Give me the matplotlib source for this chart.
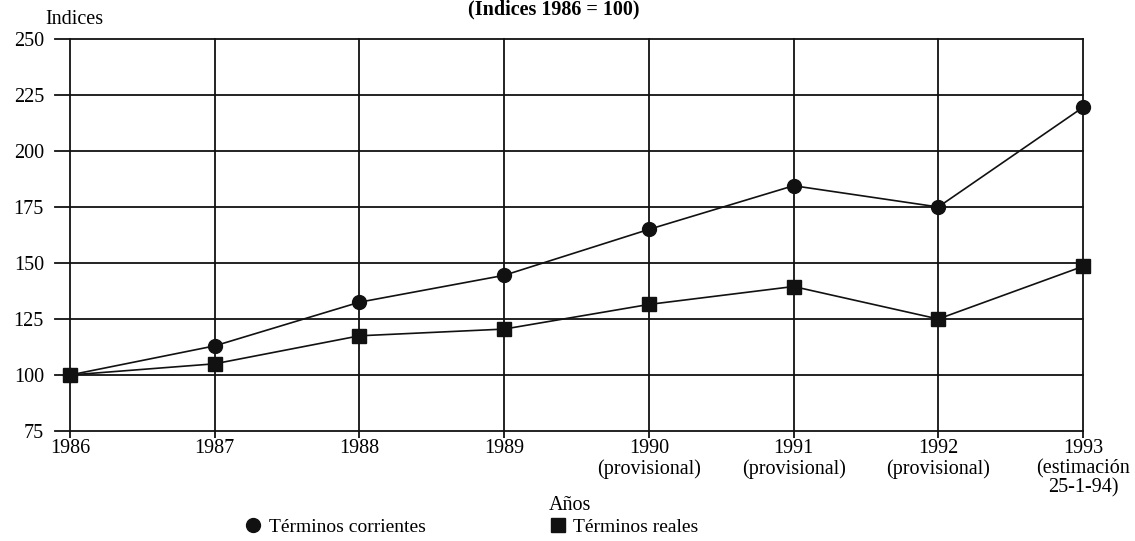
import matplotlib
matplotlib.use("Agg")
import matplotlib.pyplot as plt
from matplotlib.lines import Line2D

plt.rcParams['font.family'] = ['Liberation Serif', 'DejaVu Serif']

years = [1986, 1987, 1988, 1989, 1990, 1991, 1992, 1993]
year_labels = ["1986", "1987", "1988", "1989",
               "1990\n(provisional)", "1991\n(provisional)",
               "1992\n(provisional)", "1993\n(estimación\n25-1-94)"]
corrientes = [100, 113, 132.5, 144.5, 165, 184.5, 175, 219.5]
reales = [100, 105, 117.5, 120.5, 131.5, 139.5, 125, 148.5]
y_ticks = [75, 100, 125, 150, 175, 200, 225, 250]

fig = plt.figure(figsize=(11.35, 5.41), dpi=100)
ax = fig.add_axes([55/1135, 1 - 431/541, (1083 - 55)/1135, (431 - 39)/541])

ax.plot(years, corrientes, "o-", color="#111111", lw=1.2, ms=10, clip_on=False, zorder=3)
ax.plot(years, reales, "s-", color="#111111", lw=1.2, ms=10, clip_on=False, zorder=3)

ax.set_xlim(1986 - 15/144.7, 1993)
ax.set_ylim(75, 250)
ax.set_xticks(years)
ax.set_xticklabels(year_labels, fontsize=14.5, linespacing=1.03)
ax.set_yticks(y_ticks)
ax.set_yticklabels([str(v) for v in y_ticks], fontsize=14.5)
ax.grid(True, color="#111111", lw=1.3)
for gl in ax.get_xgridlines() + ax.get_ygridlines():
    gl.set_clip_on(False)
ax.set_axisbelow(True)
for s in ax.spines.values():
    s.set_visible(False)
ax.tick_params(axis="x", direction="out", length=5, width=1.3, color="#111111", pad=1)
ax.tick_params(axis="y", length=0, pad=8)

fig.text(45/1135, 1 - 19/541, "Indices", fontsize=14.5, ha="left", va="center")
fig.text(554/1135, 1 - 9/541, "(Indices 1986 = 100)", fontsize=14.5,
         fontweight="bold", ha="center", va="center")
fig.text(570/1135, 1 - 505/541, "Años", fontsize=14.5, ha="center", va="center")

handles = [Line2D([], [], marker="o", ls="none", color="#111111", ms=10),
           Line2D([], [], marker="s", ls="none", color="#111111", ms=10)]
fig.legend(handles, ["Términos corrientes", "Términos reales"], loc="center",
           bbox_to_anchor=(472/1135, 1 - 527/541), ncol=2, frameon=False,
           fontsize=14, handlelength=0.8, handletextpad=0.4, columnspacing=6.4)

fig.savefig("out.png", dpi=100)
